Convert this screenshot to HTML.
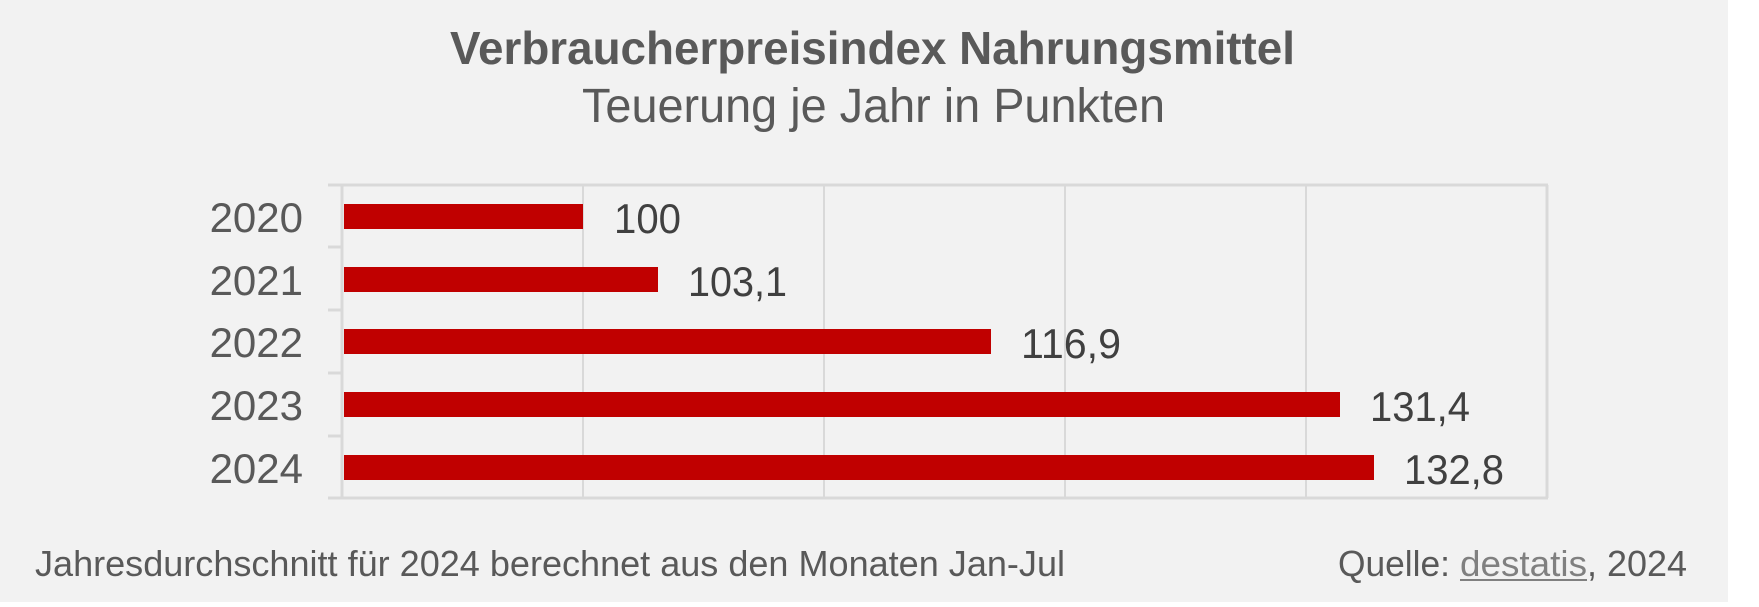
<!DOCTYPE html>
<html><head><meta charset="utf-8"><style>
html,body{margin:0;padding:0;background:#fff;}
svg{display:block;}
text{font-family:"Liberation Sans",sans-serif;}
</style></head><body>
<svg width="1759" height="607" viewBox="0 0 1759 607" xmlns="http://www.w3.org/2000/svg">
<rect x="0" y="0" width="1728" height="602" fill="#f2f2f2"/>
<text x="450" y="64" font-size="46" font-weight="bold" fill="#595959" textLength="845" lengthAdjust="spacingAndGlyphs">Verbraucherpreisindex Nahrungsmittel</text>
<text x="582" y="122" font-size="48" fill="#595959" textLength="583" lengthAdjust="spacingAndGlyphs">Teuerung je Jahr in Punkten</text>
<g stroke="#d9d9d9" stroke-width="2">
<line x1="583" y1="185" x2="583" y2="498"/>
<line x1="824" y1="185" x2="824" y2="498"/>
<line x1="1065" y1="185" x2="1065" y2="498"/>
<line x1="1306" y1="185" x2="1306" y2="498"/>
<line x1="1547" y1="185" x2="1547" y2="498" stroke-width="3"/>
<line x1="328" y1="185" x2="1548" y2="185" stroke-width="3"/>
<line x1="328" y1="498" x2="1548" y2="498" stroke-width="3"/>
<line x1="342" y1="185" x2="342" y2="498" stroke-width="3"/>
<line x1="328" y1="247" x2="342" y2="247" stroke-width="3"/>
<line x1="328" y1="310" x2="342" y2="310" stroke-width="3"/>
<line x1="328" y1="373" x2="342" y2="373" stroke-width="3"/>
<line x1="328" y1="436" x2="342" y2="436" stroke-width="3"/>
</g>
<g fill="#c00000">
<rect x="344" y="204" width="239" height="25"/>
<rect x="344" y="267" width="314" height="25"/>
<rect x="344" y="329" width="647" height="25"/>
<rect x="344" y="392" width="996" height="25"/>
<rect x="344" y="455" width="1030" height="25"/>
</g>
<g font-size="42" fill="#595959" text-anchor="end">
<text x="303" y="232">2020</text>
<text x="303" y="295">2021</text>
<text x="303" y="357">2022</text>
<text x="303" y="420">2023</text>
<text x="303" y="483">2024</text>
</g>
<g font-size="42" fill="#404040">
<text x="614" y="233" textLength="67" lengthAdjust="spacingAndGlyphs">100</text>
<text x="688" y="296" textLength="99" lengthAdjust="spacingAndGlyphs">103,1</text>
<text x="1021" y="358" textLength="100" lengthAdjust="spacingAndGlyphs">116,9</text>
<text x="1370" y="421" textLength="100" lengthAdjust="spacingAndGlyphs">131,4</text>
<text x="1404" y="484" textLength="100" lengthAdjust="spacingAndGlyphs">132,8</text>
</g>
<text x="35" y="576" font-size="36" fill="#595959" textLength="1030" lengthAdjust="spacingAndGlyphs">Jahresdurchschnitt für 2024 berechnet aus den Monaten Jan-Jul</text>
<text x="1338" y="576" font-size="36" fill="#595959" textLength="112" lengthAdjust="spacingAndGlyphs">Quelle:</text>
<text x="1460" y="576" font-size="36" fill="#808080" textLength="127" lengthAdjust="spacingAndGlyphs">destatis</text>
<rect x="1460" y="579" width="127" height="2" fill="#808080"/>
<text x="1587" y="576" font-size="36" fill="#595959" textLength="100" lengthAdjust="spacingAndGlyphs">, 2024</text>
</svg>
</body></html>
